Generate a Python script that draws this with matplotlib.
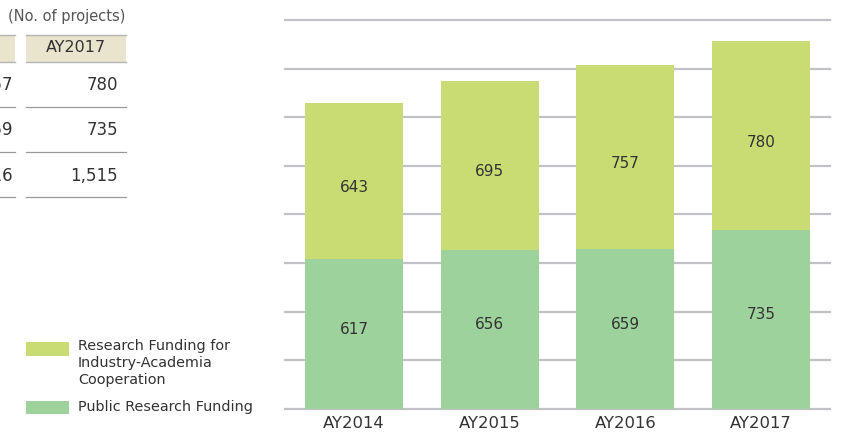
import matplotlib
matplotlib.use("Agg")
import matplotlib.pyplot as plt
from matplotlib.patches import Rectangle
from matplotlib.lines import Line2D
import numpy as np

plt.rcParams['font.family'] = ['DejaVu Sans']

years = ["AY2014", "AY2015", "AY2016", "AY2017"]
public_funding = [617, 656, 659, 735]
industry_funding = [643, 695, 757, 780]
total_labels = ["1,260", "1,351", "1,416", "1,515"]
unit_label = "(No. of projects)"
legend_labels = ["Research Funding for\nIndustry-Academia\nCooperation", "Public Research Funding"]

C_IND = "#c8dc73"
C_PUB = "#9dd29c"
C_GRID = "#c2c1c6"
C_TXT = "#333333"
C_HEAD = "#e9e4cd"
C_RULE = "#9a9a9a"

W, H = 846, 436
fig = plt.figure(figsize=(W / 100, H / 100), dpi=100)

def fx(x):
    return x / W

def fy(y):
    return 1 - y / H

# ---- bar chart ----
ax = fig.add_axes([fx(285), fy(409), fx(830) - fx(285), fy(20) - fy(409)])
x = np.arange(len(years))
ax.bar(x, public_funding, width=0.72, color=C_PUB, zorder=3)
ax.bar(x, industry_funding, width=0.72, bottom=public_funding, color=C_IND, zorder=3)
for xi, p, i in zip(x, public_funding, industry_funding):
    ax.text(xi, p / 2 + 20, str(p), ha="center", va="center", fontsize=11, color=C_TXT, zorder=4)
    ax.text(xi, p + i / 2 - 28, str(i), ha="center", va="center", fontsize=11, color=C_TXT, zorder=4)
ax.set_xlim(-0.51, 3.51)
ax.set_ylim(0, 1600)
ax.set_yticks(np.arange(0, 1601, 200))
ax.yaxis.grid(True, color=C_GRID, linewidth=1.6, zorder=1)
for gl in ax.get_ygridlines():
    gl.set_clip_on(False)
ax.set_axisbelow(True)
ax.tick_params(axis="y", left=False, labelleft=False)
ax.set_xticks(x)
ax.set_xticklabels(years, fontsize=11.8, color=C_TXT)
ax.tick_params(axis="x", length=0, pad=5)
for s in ax.spines.values():
    s.set_visible(False)
ax.patch.set_alpha(0)

# ---- table (partially cropped at left) ----
fig.text(fx(125), fy(17), unit_label, ha="right", va="center", fontsize=10.5, color="#555555")
pitch = 111
right_edge = 126
row_y = [85, 130, 176]
row_rule = [107, 152, 197]
n = len(years)
for k in range(n):
    r = right_edge - (n - 1 - k) * pitch
    l = r - 100
    if r <= 0:
        continue
    fig.patches.append(Rectangle((fx(l), fy(62)), fx(r) - fx(l), fy(35) - fy(62),
                                 transform=fig.transFigure, facecolor=C_HEAD, edgecolor="none"))
    for yy in (35, 62):
        fig.lines.append(Line2D([fx(l), fx(r)], [fy(yy), fy(yy)], transform=fig.transFigure,
                                color="#b5b5b5", linewidth=1.0))
    if (l + r) / 2 > 0:
        fig.text(fx((l + r) / 2), fy(48), years[k], ha="center", va="center", fontsize=11.5, color=C_TXT)
    vals = [str(industry_funding[k]), str(public_funding[k]), total_labels[k]]
    off = 8 if k == n - 1 else 2
    for v, yy, ry in zip(vals, row_y, row_rule):
        fig.text(fx(r - off), fy(yy), v, ha="right", va="center", fontsize=12, color=C_TXT)
        fig.lines.append(Line2D([fx(l), fx(r)], [fy(ry), fy(ry)], transform=fig.transFigure,
                                color=C_RULE, linewidth=0.9))

# ---- legend ----
fig.patches.append(Rectangle((fx(26), fy(356)), fx(69) - fx(26), fy(342) - fy(356),
                             transform=fig.transFigure, facecolor=C_IND, edgecolor="none"))
fig.patches.append(Rectangle((fx(26), fy(414)), fx(69) - fx(26), fy(401) - fy(414),
                             transform=fig.transFigure, facecolor=C_PUB, edgecolor="none"))
fig.text(fx(78), fy(339), legend_labels[0], ha="left", va="top", fontsize=10.4,
         color=C_TXT, linespacing=1.28)
fig.text(fx(78), fy(407), legend_labels[1], ha="left", va="center", fontsize=10.4, color=C_TXT)

fig.savefig("out.png", dpi=100)
